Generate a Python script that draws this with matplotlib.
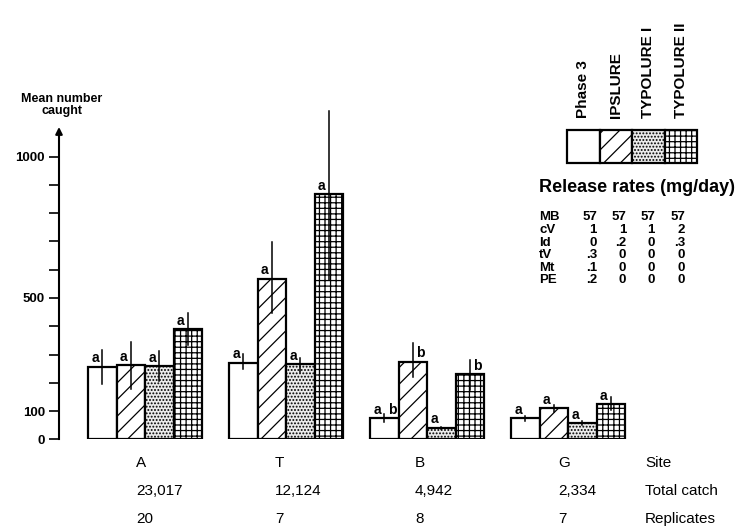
import matplotlib
matplotlib.use("Agg")
import matplotlib.pyplot as plt
from matplotlib.patches import Rectangle

plt.rcParams['font.family'] = ['Liberation Sans', 'DejaVu Sans']
plt.rcParams['hatch.linewidth'] = 0.9

# ---------------- data ----------------
sites = ["A", "T", "B", "G"]
total_catch = ["23,017", "12,124", "4,942", "2,334"]
replicates = ["20", "7", "8", "7"]
lures = ["Phase 3", "IPSLURE", "TYPOLURE I", "TYPOLURE II"]

means = {
    "A": [257, 262, 259, 389],
    "T": [271, 568, 266, 868],
    "B": [75, 275, 41, 230],
    "G": [74, 110, 57, 125],
}
err_low = {
    "A": [196, 177, 207, 334],
    "T": [248, 448, 239, 563],
    "B": [62, 222, 38, 175],
    "G": [64, 98, 50, 104],
}
err_high = {
    "A": [316, 344, 313, 448],
    "T": [302, 698, 287, 1163],
    "B": [90, 340, 44, 281],
    "G": [84, 122, 64, 150],
}
letters_left = {
    "A": ["a", "a", "a", "a"],
    "T": ["a", "a", "a", "a"],
    "B": ["a", "", "a", ""],
    "G": ["a", "a", "a", "a"],
}
letters_right = {
    "A": ["", "", "", ""],
    "T": ["", "", "", ""],
    "B": ["b", "b", "", "b"],
    "G": ["", "", "", ""],
}

row_names = ["MB", "cV", "Id", "tV", "Mt", "PE"]
release = [
    ["57", "57", "57", "57"],
    ["1", "1", "1", "2"],
    ["0", ".2", "0", ".3"],
    [".3", "0", "0", "0"],
    [".1", "0", "0", "0"],
    [".2", "0", "0", "0"],
]
yticks_major = [0, 100, 500, 1000]
yticks_minor = [200, 300, 400, 600, 700, 800, 900]

# ---------------- styles ----------------
hatches = [None, "//", ".....", "+++"]
faces = ["white", "white", "#ececec", "white"]

W, H = 739, 528
fig = plt.figure(figsize=(W / 100, H / 100), dpi=100)

def fx(px):
    return px / W

def fy(py):
    return 1 - py / H

unit_px = 28.5
ax_left_px, ax_base_px = 59, 439.3
px_per_val = 0.2826
ymax = 1200
ax_h_px = ymax * px_per_val
ax_w_px = W - ax_left_px
ax = fig.add_axes([fx(ax_left_px), 1 - ax_base_px / H, ax_w_px / W, ax_h_px / H])
ax.set_xlim(0, ax_w_px / unit_px)
ax.set_ylim(0, ymax)
ax.patch.set_alpha(0)

group_step = 141 / unit_px
first_left = (88 - ax_left_px) / unit_px

for g, s in enumerate(sites):
    for j in range(4):
        left = first_left + g * group_step + j
        c = left + 0.5
        ax.bar(c, means[s][j], width=1.0, facecolor=faces[j], edgecolor="black",
               linewidth=1.6, hatch=hatches[j], zorder=2)
        ax.plot([c, c], [err_low[s][j], err_high[s][j]], color="black", lw=1.1, zorder=3)
        if letters_left[s][j]:
            ax.annotate(letters_left[s][j], (c - 0.12, means[s][j]), xytext=(0, 1),
                        textcoords="offset points", ha="right", va="bottom",
                        fontsize=10, fontweight="bold", zorder=4)
        if letters_right[s][j]:
            ax.annotate(letters_right[s][j], (c + 0.12, means[s][j]), xytext=(0, 1),
                        textcoords="offset points", ha="left", va="bottom",
                        fontsize=10, fontweight="bold", zorder=4)

# axes styling
for sp in ["top", "right", "bottom"]:
    ax.spines[sp].set_visible(False)
ax.spines["left"].set_linewidth(1.5)
ax.spines["left"].set_bounds(0, 1090)
ax.annotate("", xy=(0, 1115), xytext=(0, 1060), xycoords=("axes fraction", "data"),
            arrowprops=dict(arrowstyle="-|>", color="black", lw=1.5, mutation_scale=10))
ax.set_xticks([])
ax.set_yticks(yticks_major)
ax.set_yticklabels([str(v) for v in yticks_major], fontsize=9.5, fontweight="bold")
ax.set_yticks(yticks_minor, minor=True)
ax.tick_params(axis="y", which="both", direction="out", length=7, width=1.2, pad=3)

fig.text(fx(62), fy(105), "Mean number\ncaught", ha="center", va="center",
         fontsize=9, fontweight="bold", linespacing=1.0)

# bottom rows
col_x = [136, 275, 415, 558]
rows_y = [463, 491, 519]
for i in range(4):
    fig.text(fx(col_x[i]), fy(rows_y[0]), sites[i], ha="left", va="center", fontsize=11)
    fig.text(fx(col_x[i]), fy(rows_y[1]), total_catch[i], ha="left", va="center", fontsize=11)
    fig.text(fx(col_x[i]), fy(rows_y[2]), replicates[i], ha="left", va="center", fontsize=11)
for lab, yy in zip(["Site", "Total catch", "Replicates"], rows_y):
    fig.text(fx(645), fy(yy), lab, ha="left", va="center", fontsize=11)

# legend boxes
lx0, lx1, ly0, ly1 = 567, 697, 130, 163
lg = fig.add_axes([fx(lx0), fy(ly1), (lx1 - lx0) / W, (ly1 - ly0) / H])
lg.set_xlim(0, 4)
lg.set_ylim(0, 1)
lg.axis("off")
for j in range(4):
    lg.add_patch(Rectangle((j, 0), 1, 1, facecolor=faces[j], edgecolor="black",
                           linewidth=1.6, hatch=hatches[j], clip_on=False))
    fig.text(fx(lx0 + (j + 0.5) * (lx1 - lx0) / 4), fy(118), lures[j], rotation=90,
             ha="center", va="bottom", fontsize=11, fontweight="bold")

fig.text(fx(637), fy(187), "Release rates (mg/day)", ha="center", va="center",
         fontsize=13, fontweight="bold")
tab_y = [217, 230, 243, 255, 268, 280]
val_x = [597, 626, 655, 685]
for r, name in enumerate(row_names):
    fig.text(fx(539), fy(tab_y[r]), name, ha="left", va="center", fontsize=9.5, fontweight="bold")
    for k in range(4):
        fig.text(fx(val_x[k]), fy(tab_y[r]), release[r][k], ha="right", va="center",
                 fontsize=9.5, fontweight="bold")

fig.savefig("out.png", dpi=100)
